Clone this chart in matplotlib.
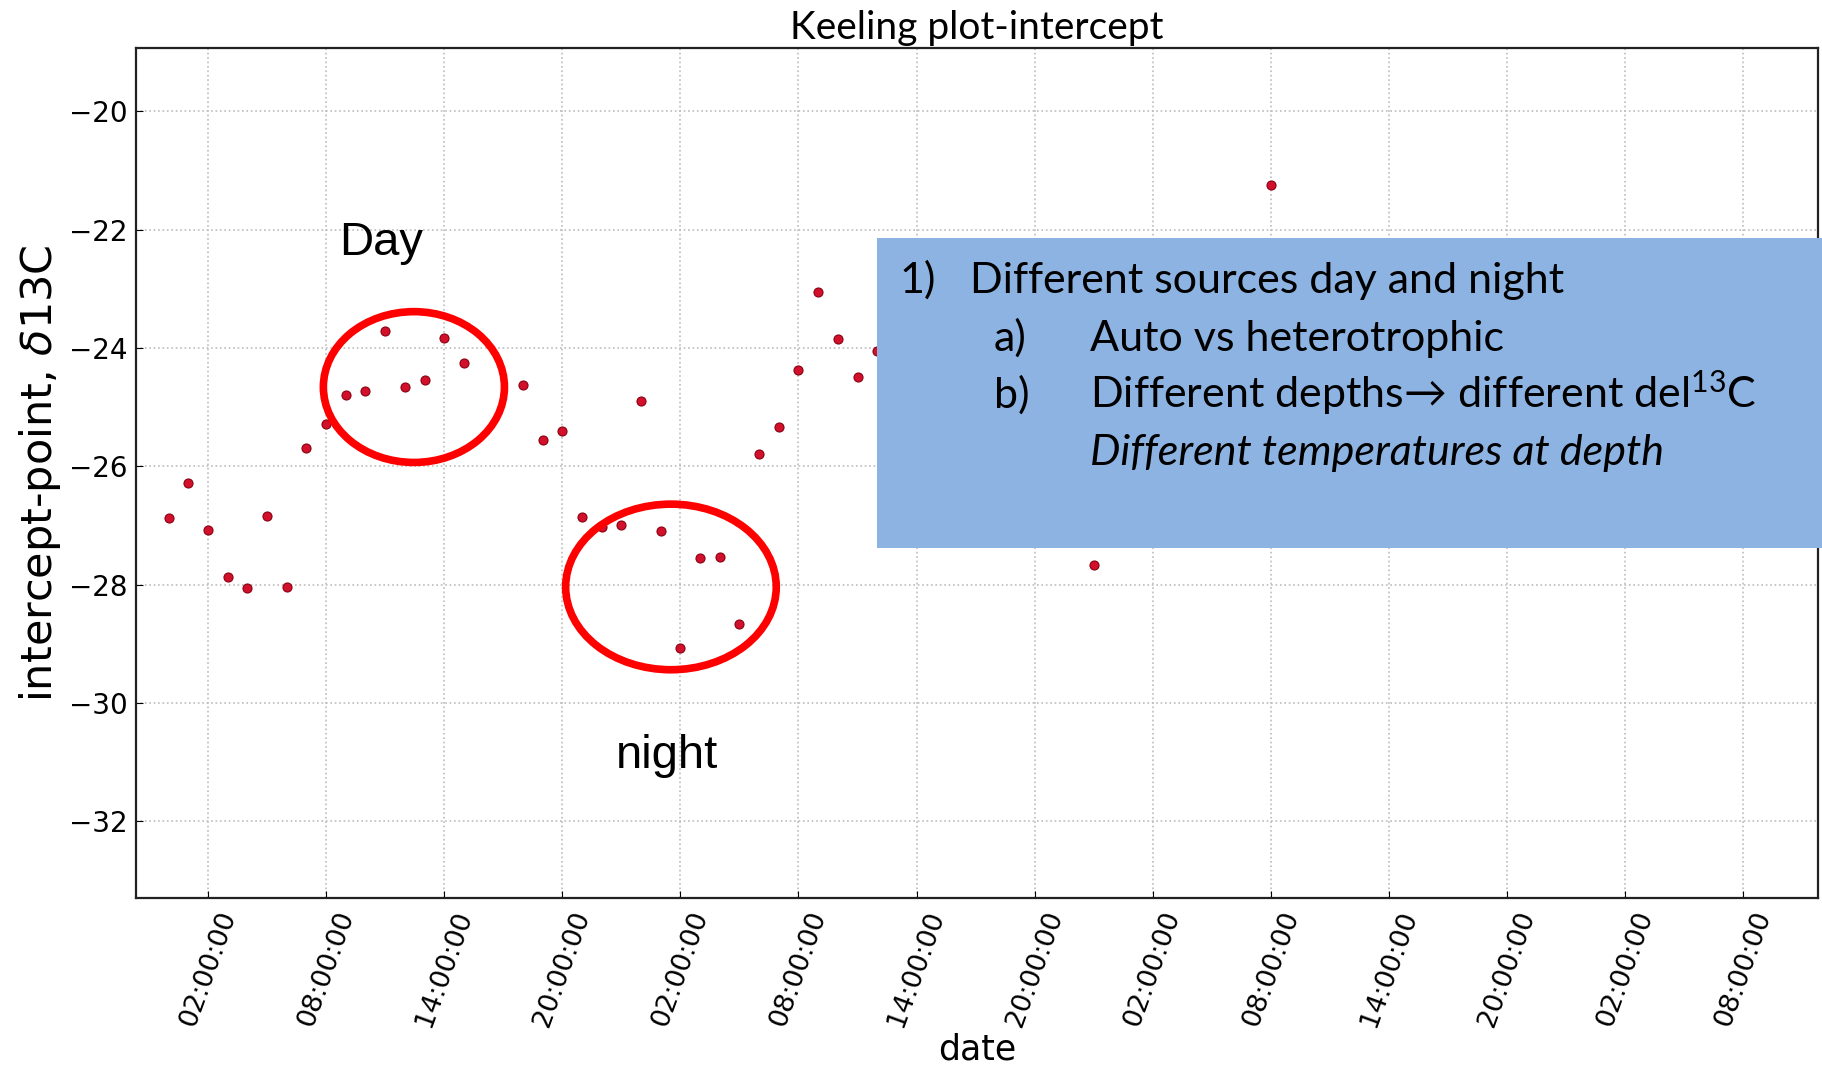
import matplotlib
matplotlib.use("Agg")
import matplotlib.pyplot as plt
import matplotlib.dates as mdates
from matplotlib.patches import Ellipse, Rectangle
import pandas as pd

# ---- data -------------------------------------------------------------
start = "2013-06-17 00:00"
hours = [0, 1, 2, 3, 4, 5, 6, 7, 8, 9, 10, 11, 12, 13, 14, 15, 18, 19, 20,
         21, 22, 23, 24, 25, 26, 27, 28, 29, 30, 31, 32, 33, 34, 35, 36, 47, 56]
intercepts = [-26.88, -26.29, -27.08, -27.88, -28.06, -26.84, -28.04, -25.69,
              -25.29, -24.80, -24.73, -23.71, -24.66, -24.54, -23.83, -24.26,
              -24.62, -25.55, -25.40, -26.86, -27.02, -26.99, -24.90, -27.09,
              -29.07, -27.55, -27.53, -28.66, -25.80, -25.34, -24.37, -23.05,
              -23.85, -24.49, -24.05, -27.67, -21.25]
tick_hours = [2, 8, 14, 20]
yticks = [-32, -30, -28, -26, -24, -22, -20]

title = "Keeling plot-intercept"
xlabel = "date"
ylabel = r"intercept-point, $\delta$13C"

# annotation ellipses: (center hour, center value, width hours, height value)
day_ellipse = (12.46, -24.66, 9.2, 2.55)
night_ellipse = (25.52, -28.04, 10.7, 2.8)

box_lines = [
    ("1)", "Different sources day and night"),
    ("a)", "Auto vs heterotrophic"),
    ("b)", "Different depths\u2192 different del$^{13}$C"),
    ("", "Different temperatures at depth"),
]

# ---- figure -------------------------------------------------------------
W, H = 1822, 1069
fig = plt.figure(figsize=(W / 100, H / 100), dpi=100)
ax = fig.add_axes([136 / W, 1 - 898 / H, (1818 - 136) / W, (898 - 47.6) / H])

t0 = pd.Timestamp(start)
times = [t0 + pd.Timedelta(hours=h) for h in hours]
ax.plot(times, intercepts, linestyle="none", marker="o", markersize=6.5,
        markerfacecolor="#d3102c", markeredgecolor="#8a0010",
        markeredgewidth=0.8, zorder=3)

def hnum(h):
    return mdates.date2num(t0 + pd.Timedelta(hours=h))

ax.set_xlim(hnum(-1.66), hnum(83.8))
ax.set_ylim(-33.3, -18.92)
ax.xaxis.set_major_locator(mdates.HourLocator(byhour=tick_hours))
ax.xaxis.set_major_formatter(mdates.DateFormatter("%H:%M:%S"))
ax.set_yticks(yticks)
ax.set_yticklabels(["\u2212%d" % abs(v) for v in yticks])

ax.tick_params(axis="x", labelsize=19.5, direction="in", length=5, pad=7,
               labelrotation=70)
ax.tick_params(axis="y", labelsize=20, direction="in", length=5, pad=6)
for lab in ax.get_xticklabels():
    lab.set_ha("center")

ax.grid(True, which="major", color="#bcbcbc", linestyle=":", linewidth=1.2)
for s in ax.spines.values():
    s.set_linewidth(1.6)
    s.set_color("#222222")

ax.set_xlabel(xlabel, fontsize=25)
ax.xaxis.label.set_va("baseline")
ax.xaxis.set_label_coords(0.5, (898 - 1059) / (898 - 47.6))
ax.set_ylabel(ylabel, fontsize=31, labelpad=4)
ax.set_title(title, fontsize=28, family=["Lato", "DejaVu Sans"], pad=6)

for (ch, cv, w, h) in (day_ellipse, night_ellipse):
    e = Ellipse((hnum(ch), cv), width=w / 24.0, height=h, fill=False,
                edgecolor="#ff0000", linewidth=5.5, zorder=4)
    ax.add_patch(e)

ax.text(hnum(10.8), -22.42, "Day", fontsize=34, family="Liberation Sans",
        ha="center", va="baseline", zorder=5)
ax.text(hnum(25.3), -31.1, "night", fontsize=34, family="Liberation Sans",
        ha="center", va="baseline", zorder=5)

# ---- blue text box (figure coordinates) -------------------------------
fig.add_artist(Rectangle((877 / W, 1 - 548 / H), (W - 877) / W, (548 - 238) / H,
                         transform=fig.transFigure, facecolor="#8db3e2",
                         edgecolor="none", zorder=10))
plt.rcParams["mathtext.fontset"] = "custom"
plt.rcParams["mathtext.rm"] = "Lato"
plt.rcParams["mathtext.it"] = "Lato:italic"

baselines = [293, 351, 408, 465]
num_x = [899, 994, 994, 994]
txt_x = [970, 1090, 1090, 1090]
for i, (num, txt) in enumerate(box_lines):
    y = 1 - baselines[i] / H
    if num:
        fig.text(num_x[i] / W, y, num, fontsize=31, family=["Lato", "DejaVu Sans"],
                 va="baseline", ha="left", zorder=11)
    style = "italic" if i == 3 else "normal"
    fig.text(txt_x[i] / W, y, txt, fontsize=31, family=["Lato", "DejaVu Sans"],
             style=style, va="baseline", ha="left", zorder=11)

fig.savefig("out.png", dpi=100)
